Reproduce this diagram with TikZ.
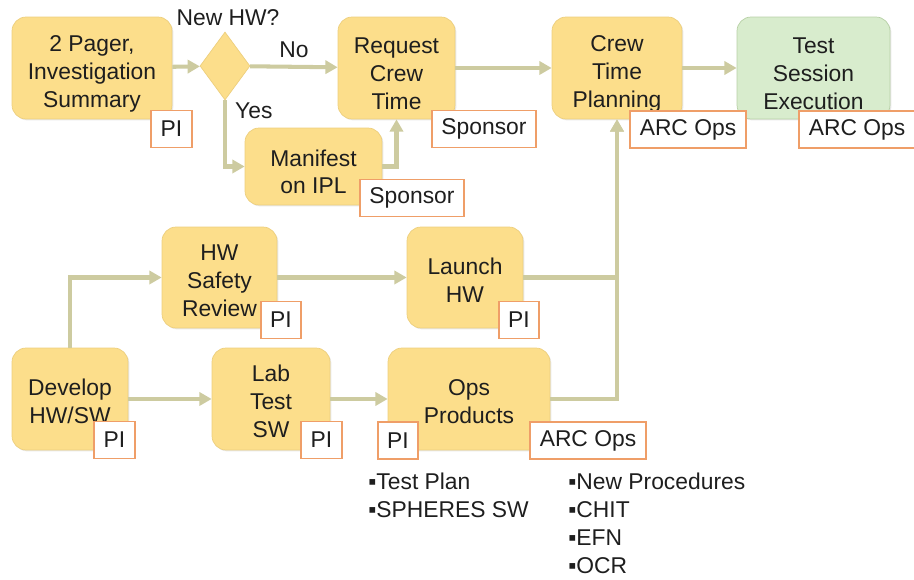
\documentclass[tikz,border=0pt]{standalone}
\usepackage{fontspec}
\setmainfont{Liberation Sans}
\usepackage{xcolor}
\usepackage{tikz}
\usetikzlibrary{arrows.meta, positioning}
\usetikzlibrary{shapes.geometric, shadows}
\definecolor{boxfill}{HTML}{FCDE8B}
\definecolor{boxline}{HTML}{EDCF7E}
\definecolor{execfill}{HTML}{D8ECCD}
\definecolor{execline}{HTML}{B7D0A6}
\definecolor{tagline}{HTML}{EF9E68}
\definecolor{flow}{HTML}{CDCBA0}
\definecolor{ink}{HTML}{1E1E1E}
% struts that push the box text a little lower
\newcommand{\deeprow}{\rule{0pt}{15.5pt}}
\newcommand{\lowrow}{\rule{0pt}{12.5pt}}

\begin{document}
\begin{tikzpicture}[x=0.02cm,y=-0.02cm,
        font=\fontsize{13}{15.9}\selectfont, text=ink,
        stage/.style={draw=boxline, fill=boxfill, rounded corners=8pt, align=center,
            inner sep=0pt, minimum height=2.04cm,
            drop shadow={shadow xshift=0.8pt, shadow yshift=-0.8pt, opacity=0.18}},
        tag/.style={draw=tagline, line width=1.1pt, fill=white, inner xsep=5.5pt,
            inner ysep=0pt, minimum height=0.74cm},
        flowline/.style={draw=flow, line width=2.3pt,
            -{Triangle[length=7pt,width=7.5pt]}}]
            \useasboundingbox (0,0) rectangle (914,580);
            % top row
            \node[stage, minimum width=3.2cm](pager) at (92,68) {\deeprow 2 Pager,\\Investigation\\Summary};
            \node[diamond, draw=boxline, fill=boxfill, inner sep=0pt, minimum width=1cm,
                minimum height=1.36cm](decide) at (225,66) {};
            \node(askhw) at (228,18) {New HW?};
            \node[stage, minimum width=2.34cm](request) at (396.5,68) {\deeprow Request\\Crew\\Time};
            \node[stage, minimum width=2.74cm, minimum height=1.54cm](manifest) at (313.5,166.5) {\deeprow Manifest\\on IPL};
            \node[stage, minimum width=2.6cm](crew) at (617,68) {\deeprow Crew\\Time\\Planning};
            \node[stage, minimum width=3.06cm, draw=execline, fill=execfill](exec) at (813.5,68) {\deeprow Test\\Session\\Execution};
            % lower rows
            \node[stage, minimum width=2.3cm, minimum height=2.02cm](safety) at (219.5,277.5) {\lowrow HW\\Safety\\Review};
            \node[stage, minimum width=2.32cm, minimum height=2.02cm](launch) at (465,277.5) {\lowrow Launch\\HW};
            \node[stage, minimum width=2.32cm](develop) at (70,399) {\lowrow Develop\\HW/SW};
            \node[stage, minimum width=2.36cm](lab) at (271,399) {\lowrow Lab\\Test\\SW};
            \node[stage, minimum width=3.24cm](ops) at (469,399) {\lowrow Ops\\Products};
            % connectors
            \draw[flowline] (pager) -- (decide);
            \draw[flowline] (decide) -- node[above=0.5pt]{No} (request);
            \draw[flowline] (decide.south) |- (manifest.west);
            \node[anchor=west](yes) at (229,111) {Yes};
            \draw[flowline] (manifest.east) -| (request.south);
            \draw[flowline] (request) -- (crew);
            \draw[flowline] (crew) -- (exec);
            \draw[flowline] (develop.north) |- (safety.west);
            \draw[flowline] (develop) -- (lab);
            \draw[flowline] (safety) -- (launch);
            \draw[flowline] (lab) -- (ops);
            \draw[flowline] (launch.east) -| (crew.south);
            \draw[flowline] (ops.east) -| (crew.south);
            % owners
            \node[tag](pagerpi) at (171.5,129) {PI};
            \node[tag](reqsponsor) at (484,129) {Sponsor};
            \node[tag](mansponsor) at (412,198) {Sponsor};
            \node[tag](crewarc) at (688,129.5) {ARC Ops};
            \node[tag](execarc) at (857,129.5) {ARC Ops};
            \node[tag](safetypi) at (281,320) {PI};
            \node[tag](launchpi) at (519,320) {PI};
            \node[tag](developpi) at (114.5,440) {PI};
            \node[tag](labpi) at (321.5,440) {PI};
            \node[tag](opspi) at (398,440.5) {PI};
            \node[tag](opsarc) at (588,440.5) {ARC Ops};
            % product lists
            \node[anchor=north west, inner sep=0pt, align=left](pilist) at (368,473) {▪Test Plan\\▪SPHERES SW};
            \node[anchor=north west, inner sep=0pt, align=left](arclist) at (568,473) {▪New Procedures\\▪CHIT\\▪EFN\\▪OCR};
        \end{tikzpicture}
\end{document}
